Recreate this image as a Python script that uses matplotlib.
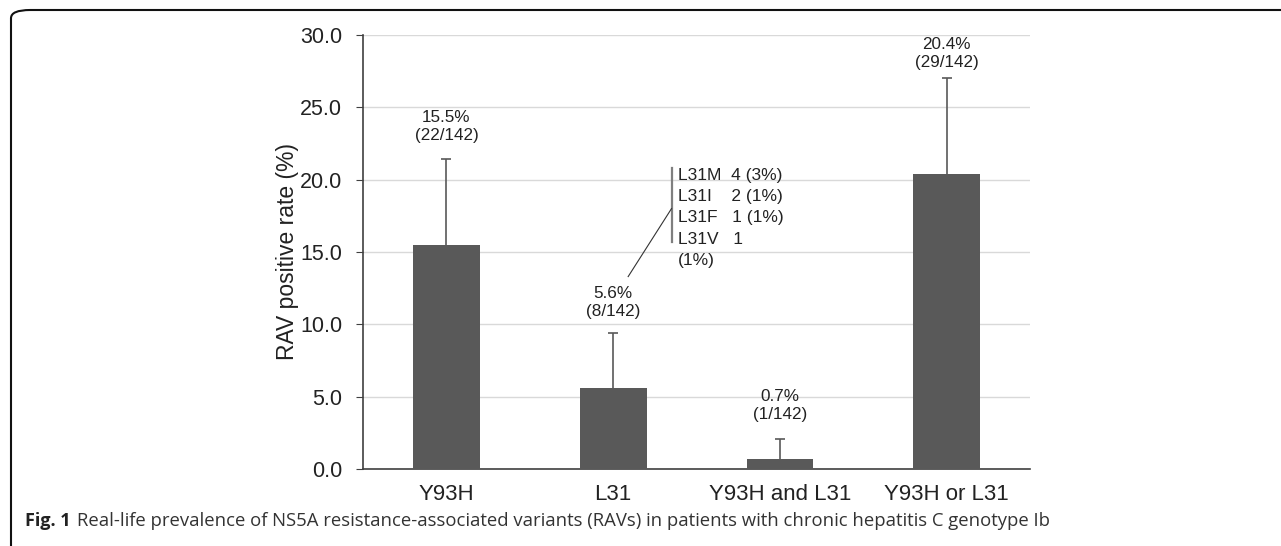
import matplotlib.pyplot as plt
from matplotlib.patches import FancyBboxPatch

# RAV prevalence data
categories = ['Y93H', 'L31', 'Y93H and L31', 'Y93H or L31']
rates = [15.5, 5.6, 0.7, 20.4]
upper_err = [5.9, 3.8, 1.4, 6.6]
bar_labels = ['15.5%\n(22/142)', '5.6%\n(8/142)', '0.7%\n(1/142)', '20.4%\n(29/142)']
label_y = [23.7, 11.5, 4.4, 28.7]
l31_detail = ['L31M  4 (3%)', 'L31I    2 (1%)', 'L31F   1 (1%)', 'L31V   1', '(1%)']
yticks = [0, 5, 10, 15, 20, 25, 30]

plt.rcParams['font.family'] = ['Liberation Sans', 'DejaVu Sans']

fig = plt.figure(figsize=(12.81, 5.46), dpi=100)
ax = fig.add_axes([0.2834, 0.141, 0.5207, 0.795])

x = list(range(len(categories)))
ax.bar(x, rates, width=0.4, color='#595959', zorder=3)
# upper error bars only (no cap at the bar top)
tops = [r + e for r, e in zip(rates, upper_err)]
ax.vlines(x, rates, tops, color='#595959', lw=1.2, zorder=2)
ax.plot(x, tops, ls='none', marker='_', ms=7, mew=1.2, color='#595959', zorder=2)

for xi, lab, ly in zip(x, bar_labels, label_y):
    ax.text(xi, ly, lab, ha='center', va='center', fontsize=12.3,
            color='#222222', linespacing=1.25)

# L31 breakdown annotation
ax.plot([1.35, 1.35], [15.7, 20.8], color='#7f7f7f', lw=1.6)
ax.plot([1.09, 1.35], [13.3, 18.0], color='#333333', lw=0.8)
for i, line in enumerate(l31_detail):
    ax.text(1.39, 20.3 - i * 1.47, line, ha='left', va='center', fontsize=12.5,
            color='#222222')

ax.set_xlim(-0.5, 3.5)
ax.set_ylim(0, 30)
ax.set_yticks(yticks)
ax.set_yticklabels([f'{v:.1f}' for v in yticks], fontsize=15.5, color='#222222')
ax.set_xticks(x)
ax.set_xticklabels(categories, fontsize=16, color='#222222')
ax.tick_params(axis='x', length=0, pad=11)
ax.tick_params(axis='y', length=5, color='#404040', pad=10)
ax.set_ylabel('RAV positive rate (%)', fontsize=16.5, color='#222222', labelpad=1)
ax.grid(axis='y', color='#d9d9d9', lw=1, zorder=0)
for s in ['top', 'right']:
    ax.spines[s].set_visible(False)
for s in ['left', 'bottom']:
    ax.spines[s].set_color('#404040')
    ax.spines[s].set_linewidth(1.2)

# figure frame and caption
frame = FancyBboxPatch((11 / 1281, -0.2), 1.2, 1.2 - 10 / 546,
                       boxstyle='round,pad=0,rounding_size=0.015',
                       transform=fig.transFigure, fill=False, ec='#111111', lw=1.5)
fig.patches.append(frame)
fig.text(25 / 1281, 1 - 521 / 546, 'Fig. 1', fontsize=13, fontweight='bold',
         family='Open Sans', va='center', color='#222222')
fig.text(77 / 1281, 1 - 521 / 546,
         'Real-life prevalence of NS5A resistance-associated variants (RAVs) in patients with chronic hepatitis C genotype Ib',
         fontsize=13.3, family='Open Sans', va='center', color='#333333')

fig.savefig('out.png', dpi=100)
